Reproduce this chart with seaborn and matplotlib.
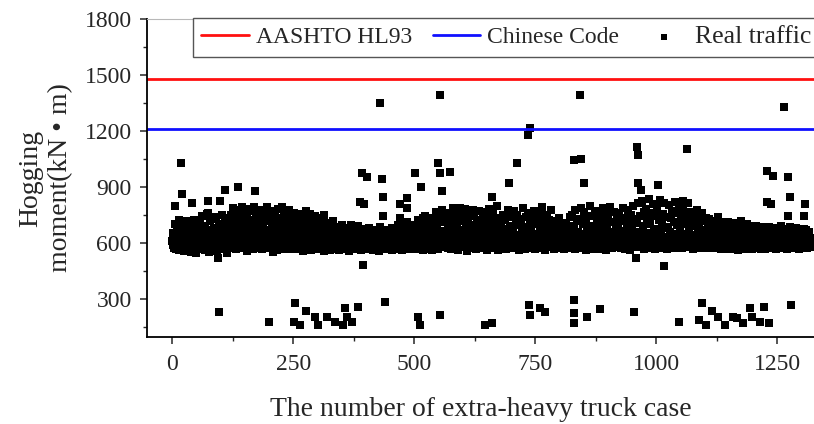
import numpy as np
import pandas as pd
import matplotlib
matplotlib.use("Agg")
import matplotlib.pyplot as plt
from matplotlib.ticker import MultipleLocator
import seaborn as sns

# design code lines (kN*m)
aashto_hl93 = 1480
chinese_code = 1210

# real traffic hogging moment, one value per case, main band
moment_0_219 = [
    612, 588, 655, 597, 571, 703, 624, 583, 566, 690, 608, 641, 579, 596, 722, 563, 617, 586, 664, 601,
    579, 634, 702, 591, 556, 618, 685, 603, 572, 647, 595, 716, 584, 561, 629, 670, 598, 577, 611, 552,
    687, 605, 574, 638, 593, 721, 566, 612, 589, 660, 547, 602, 695, 581, 625, 568, 643, 599, 708, 585,
    618, 571, 744, 596, 652, 583, 609, 689, 562, 631, 598, 757, 576, 614, 668, 590, 553, 637, 605, 715,
    584, 646, 601, 573, 729, 612, 593, 681, 565, 624, 738, 587, 609, 556, 659, 598, 700, 575, 620, 589,
    641, 603, 752, 582, 617, 569, 694, 611, 588, 733, 626, 574, 660, 597, 546, 712, 605, 583, 676, 620,
    592, 748, 631, 575, 705, 612, 786, 588, 654, 603, 727, 566, 640, 691, 598, 774, 615, 582, 669, 743,
    607, 580, 718, 652, 595, 791, 628, 571, 684, 612, 760, 589, 646, 701, 557, 735, 618, 599, 672, 781,
    586, 657, 722, 604, 769, 593, 639, 568, 712, 625, 795, 581, 688, 610, 747, 597, 663, 574, 730, 615,
    650, 778, 589, 702, 621, 566, 741, 608, 685, 592, 759, 627, 573, 716, 644, 601, 792, 584, 668, 612,
    727, 595, 656, 770, 579, 633, 698, 607, 552, 751, 620, 587, 679, 738, 598, 645, 563, 709, 616, 784,
]
moment_220_439 = [
    591, 667, 606, 732, 575, 648, 790, 613, 584, 702, 629, 565, 756, 600, 681, 594, 724, 642, 572, 663,
    610, 775, 588, 650, 703, 597, 566, 739, 619, 582, 687, 762, 603, 635, 574, 711, 592, 658, 744, 581,
    627, 569, 699, 612, 754, 590, 641, 578, 719, 605, 673, 558, 736, 617, 596, 683, 771, 584, 648, 602,
    714, 576, 631, 593, 757, 609, 562, 688, 620, 580, 728, 646, 599, 671, 571, 742, 613, 588, 655, 697,
    583, 627, 734, 596, 567, 662, 608, 720, 585, 643, 575, 697, 615, 559, 748, 601, 638, 580, 684, 622,
    592, 668, 574, 611, 706, 587, 640, 563, 693, 605, 579, 652, 618, 715, 584, 596, 630, 569, 677, 601,
    614, 578, 663, 597, 560, 688, 606, 582, 639, 571, 604, 697, 588, 621, 565, 650, 599, 576, 682, 610,
    586, 628, 569, 672, 601, 592, 557, 645, 613, 580, 694, 598, 567, 631, 607, 583, 660, 574, 619, 594,
    658, 579, 603, 566, 689, 612, 588, 637, 572, 598, 621, 563, 676, 601, 585, 645, 609, 570, 596, 632,
    577, 611, 655, 589, 566, 624, 598, 680, 581, 607, 569, 643, 593, 615, 562, 668, 600, 584, 627, 574,
    606, 590, 661, 571, 599, 636, 580, 612, 558, 686, 595, 618, 576, 604, 649, 587, 565, 622, 601, 583,
]
moment_440_659 = [
    641, 575, 609, 592, 671, 566, 615, 598, 583, 653, 604, 571, 627, 590, 562, 679, 608, 586, 633, 597,
    578, 620, 602, 656, 587, 569, 694, 611, 594, 575, 638, 605, 582, 664, 599, 561, 626, 610, 589, 701,
    604, 583, 647, 595, 570, 712, 616, 589, 632, 566, 677, 601, 585, 620, 697, 578, 611, 655, 593, 574,
    629, 687, 597, 568, 643, 612, 584, 724, 603, 579, 661, 596, 620, 571, 706, 590, 637, 608, 563, 683,
    599, 615, 742, 582, 651, 594, 569, 628, 710, 605, 587, 668, 576, 733, 613, 592, 646, 560, 695, 621,
    586, 726, 603, 657, 574, 768, 611, 593, 688, 629, 567, 749, 600, 638, 582, 712, 619, 590, 775, 607,
    644, 579, 736, 597, 665, 615, 761, 586, 627, 702, 571, 683, 609, 753, 592, 640, 566, 722, 603, 678,
    618, 789, 584, 655, 598, 737, 575, 631, 696, 610, 564, 764, 602, 670, 588, 719, 626, 581, 746, 608,
    593, 661, 727, 576, 640, 604, 781, 589, 675, 615, 558, 706, 597, 743, 621, 583, 654, 769, 600, 634,
    571, 698, 612, 585, 758, 627, 594, 680, 565, 723, 606, 639, 578, 772, 601, 660, 589, 711, 617, 582,
    647, 602, 735, 573, 616, 690, 591, 766, 608, 628, 562, 704, 597, 652, 783, 585, 624, 673, 599, 740,
]
moment_660_879 = [
    579, 633, 610, 757, 592, 669, 574, 715, 603, 645, 588, 796, 620, 561, 687, 606, 731, 595, 652, 583,
    700, 614, 576, 663, 748, 597, 629, 582, 721, 608, 567, 677, 640, 601, 779, 589, 618, 693, 573, 655,
    611, 738, 594, 580, 667, 625, 769, 599, 642, 571, 709, 616, 588, 752, 603, 636, 562, 695, 621, 584,
    727, 596, 654, 608, 785, 577, 630, 686, 602, 565, 741, 619, 592, 673, 610, 758, 583, 641, 599, 714,
    587, 661, 603, 732, 575, 626, 699, 594, 773, 612, 568, 648, 605, 720, 590, 637, 581, 763, 615, 676,
    598, 707, 572, 640, 619, 791, 586, 657, 604, 734, 563, 682, 611, 596, 750, 624, 578, 669, 607, 725,
    591, 645, 613, 776, 584, 628, 697, 600, 566, 718, 609, 652, 579, 693, 618, 595, 672, 583, 710, 604,
    632, 574, 689, 597, 612, 660, 581, 706, 603, 569, 644, 615, 592, 700, 577, 623, 655, 588, 608, 681,
    596, 621, 738, 584, 667, 605, 571, 752, 614, 590, 693, 627, 566, 779, 601, 645, 583, 716, 609, 660,
    578, 730, 617, 594, 788, 602, 650, 572, 703, 625, 589, 764, 607, 638, 561, 721, 598, 675, 613, 747,
    586, 664, 606, 797, 575, 633, 690, 599, 618, 743, 569, 652, 610, 771, 592, 627, 685, 581, 726, 604,
]
moment_880_1099 = [
    640, 588, 758, 611, 597, 676, 566, 733, 620, 603, 785, 579, 646, 701, 594, 615, 562, 749, 607, 668,
    599, 722, 583, 637, 612, 794, 590, 659, 571, 713, 626, 601, 767, 585, 643, 606, 695, 577, 739, 618,
    654, 596, 683, 609, 760, 581, 629, 575, 718, 603, 646, 789, 592, 612, 665, 568, 736, 600, 623, 705,
    587, 775, 614, 641, 597, 697, 563, 751, 608, 630, 584, 680, 619, 798, 591, 658, 605, 727, 576, 644,
    621, 708, 594, 813, 612, 660, 579, 745, 602, 636, 825, 588, 691, 615, 570, 768, 607, 649, 598, 782,
    583, 654, 730, 610, 596, 837, 625, 572, 701, 604, 761, 589, 643, 617, 808, 595, 673, 566, 742, 612,
    639, 599, 786, 581, 664, 620, 723, 593, 828, 607, 652, 575, 697, 613, 754, 588, 631, 816, 601, 679,
    597, 740, 614, 568, 683, 629, 802, 590, 656, 606, 733, 582, 770, 618, 641, 595, 712, 574, 822, 609,
    648, 587, 694, 611, 759, 600, 630, 576, 795, 615, 667, 592, 726, 604, 571, 781, 623, 650, 598, 703,
    583, 747, 612, 637, 590, 812, 605, 661, 578, 718, 626, 594, 765, 609, 643, 568, 690, 601, 752, 617,
    635, 596, 709, 582, 776, 613, 651, 589, 690, 604, 742, 575, 628, 609, 763, 592, 668, 615, 581, 717,
]
moment_1100_1319 = [
    600, 654, 587, 733, 619, 573, 682, 607, 641, 594, 726, 580, 616, 663, 599, 705, 571, 637, 610, 691,
    589, 648, 718, 603, 575, 670, 612, 596, 737, 584, 629, 606, 687, 566, 652, 618, 593, 711, 600, 578,
    642, 610, 581, 696, 603, 569, 665, 622, 590, 714, 607, 577, 639, 598, 682, 613, 565, 651, 595, 708,
    586, 627, 604, 673, 580, 615, 697, 593, 562, 645, 609, 584, 690, 601, 632, 573, 719, 598, 612, 658,
    590, 606, 681, 576, 624, 599, 565, 703, 611, 587, 655, 603, 579, 692, 616, 594, 640, 570, 608, 675,
    597, 632, 584, 664, 603, 571, 617, 689, 592, 606, 578, 650, 613, 588, 673, 600, 566, 628, 595, 685,
    609, 581, 644, 597, 568, 676, 612, 590, 625, 574, 661, 603, 586, 619, 688, 594, 572, 638, 607, 583,
    656, 598, 575, 622, 610, 589, 680, 601, 567, 643, 614, 592, 668, 583, 605, 629, 577, 693, 600, 618,
    587, 637, 603, 571, 659, 612, 594, 582, 675, 606, 626, 569, 598, 648, 615, 588, 684, 601, 576, 633,
    610, 585, 667, 597, 620, 574, 604, 652, 591, 678, 613, 580, 629, 600, 565, 646, 608, 589, 671, 596,
    622, 603, 578, 657, 611, 593, 640, 585, 606, 672, 598, 617, 571, 634, 602, 588, 661, 609, 580, 627,
]

# scattered cases above / below the main band
high_case = [19, 21, 6, 41, 74, 99, 74, 110, 136, 171, 393, 403, 388, 397, 434, 436, 436, 471, 486,
             486, 471, 502, 514, 550, 554, 574, 558, 518, 539, 595, 622, 430, 554, 843, 1264, 740,
             735, 961, 963, 1064, 830, 845, 713, 696, 851, 963, 969, 1004, 1229, 1242, 1273, 1277,
             1308, 1273, 1306, 1306, 1229, 1238, 1056, 1085, 800, 661]
high_moment = [1029, 863, 798, 814, 825, 825, 761, 884, 900, 879, 975, 954, 820, 809, 943, 846, 745,
               809, 841, 788, 734, 975, 900, 1029, 975, 980, 879, 734, 734, 788, 777, 1350, 1393,
               1393, 1329, 1216, 1179, 1114, 1071, 1104, 1045, 1052, 1029, 921, 921, 921, 884, 911,
               986, 959, 954, 846, 809, 745, 745, 675, 820, 809, 825, 777, 734, 846]
low_case = [96, 200, 254, 277, 252, 264, 295, 302, 320, 337, 353, 362, 357, 372, 384, 440, 508, 512,
            554, 647, 661, 738, 740, 760, 771, 831, 831, 831, 857, 884, 955, 1048, 1095, 1089, 1103,
            1116, 1128, 1143, 1159, 1167, 1180, 1194, 1198, 1215, 1223, 1233, 1279,
            95, 395, 959, 1016]
low_moment = [230, 177, 279, 236, 177, 161, 204, 161, 204, 177, 161, 204, 252, 177, 257, 284, 204,
              161, 214, 161, 171, 268, 214, 252, 230, 295, 225, 171, 204, 246, 230, 177, 279, 188,
              161, 236, 204, 161, 204, 198, 171, 252, 204, 177, 257, 171, 268,
              520, 482, 520, 474]

band_moment = (moment_0_219 + moment_220_439 + moment_440_659 + moment_660_879
               + moment_880_1099 + moment_1100_1319)
traffic = pd.DataFrame({
    "case": list(range(len(band_moment))) + high_case + low_case,
    "moment": band_moment + high_moment + low_moment,
})

sns.set_style("ticks")
plt.rcParams["font.family"] = ["Liberation Serif", "DejaVu Serif"]
plt.rcParams["font.size"] = 17

fig = plt.figure(figsize=(8.14, 4.24), dpi=100)
ax = fig.add_axes([147 / 814, 1 - 337 / 424, 667 / 814, 318 / 424])

l1 = ax.axhline(aashto_hl93, color="#ff1010", lw=2.0, label="AASHTO HL93")
l2 = ax.axhline(chinese_code, color="#1010ff", lw=2.0, label="Chinese Code")
sns.scatterplot(data=traffic, x="case", y="moment", marker="s", s=34, color="black",
                linewidth=0, ax=ax, label="Real traffic", legend=False)

ax.set_xlim(-52, 1326)
ax.set_ylim(96, 1800)
ax.xaxis.set_major_locator(MultipleLocator(250))
ax.xaxis.set_minor_locator(MultipleLocator(125))
ax.yaxis.set_major_locator(MultipleLocator(300))
ax.yaxis.set_minor_locator(MultipleLocator(150))
ax.yaxis.set_major_formatter(plt.FuncFormatter(lambda v, p: "" if v < 300 else f"{v:.0f}"))
ax.tick_params(which="major", direction="out", length=5, width=1.1, labelsize=17, pad=6)
ax.tick_params(which="minor", direction="out", length=3, width=1.0)
ax.tick_params(axis="x", which="major", pad=7)

for side in ["left", "bottom"]:
    ax.spines[side].set_linewidth(1.3)
    ax.spines[side].set_color("black")
ax.spines["top"].set_color("#b8b8b8")
ax.spines["right"].set_visible(False)

ax.set_xlabel("The number of extra-heavy truck case", fontsize=20, labelpad=16)
ax.set_ylabel("Hogging\nmoment(kN \u2022 m)", fontsize=20, labelpad=8, linespacing=1.25)

handles = [l1, l2, ax.collections[0]]
leg = ax.legend(handles=handles, labels=["AASHTO HL93", "Chinese Code", "Real traffic    "],
                loc="upper left", bbox_to_anchor=(0.069, 1.003), borderaxespad=0,
                ncol=3, fontsize=17, handlelength=2.0, handletextpad=0.3,
                columnspacing=0.9, borderpad=0.35, fancybox=False, framealpha=1,
                edgecolor="#555555", scatterpoints=1, markerscale=0.8)
leg.get_frame().set_linewidth(1.0)
for t in leg.get_texts()[2:]:
    t.set_fontsize(18.5)

fig.savefig("out.png", dpi=100)
